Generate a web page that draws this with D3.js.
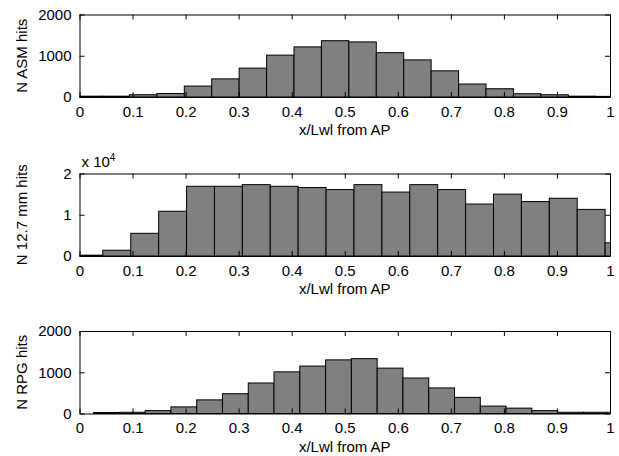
<!DOCTYPE html>
<html>
<head>
<meta charset="utf-8">
<script src="https://cdn.jsdelivr.net/npm/d3@7"></script>
<style>
  html, body { margin: 0; padding: 0; background: #fff; }
  svg { display: block; }
  text { font-family: "Liberation Sans", Arial, Helvetica, sans-serif; }
</style>
</head>
<body>
<svg id="chart" width="619" height="456"></svg>
<script>
// ---------- data ----------
const xTicks = [0, 0.1, 0.2, 0.3, 0.4, 0.5, 0.6, 0.7, 0.8, 0.9, 1];
const xTickLabels = ["0", "0.1", "0.2", "0.3", "0.4", "0.5", "0.6", "0.7", "0.8", "0.9", "1"];
const xLabel = "x/Lwl from AP";

const asmCenters = [0.0166, 0.0683, 0.1200, 0.1717, 0.2234, 0.2751, 0.3268, 0.3785, 0.4302, 0.4819,
                    0.5336, 0.5853, 0.6370, 0.6887, 0.7404, 0.7921, 0.8438, 0.8955, 0.9472, 0.9989];
const asmCounts  = [20, 20, 55, 85, 265, 440, 700, 1015, 1215, 1365,
                    1335, 1075, 900, 635, 315, 200, 80, 55, 20, 15];
const asmBinWidth = 0.0517;

const mmCenters = [0.0177, 0.0703, 0.1229, 0.1755, 0.2281, 0.2807, 0.3333, 0.3859, 0.4385, 0.4911,
                   0.5437, 0.5963, 0.6489, 0.7015, 0.7541, 0.8067, 0.8593, 0.9119, 0.9645, 1.0171];
const mmCounts  = [200, 1400, 5500, 10850, 16900, 16900, 17300, 16900, 16600, 16100,
                   17300, 15500, 17300, 16100, 12600, 15000, 13200, 14000, 11300, 3200];
const mmBinWidth = 0.0526;

const rpgCenters = [0.0508, 0.0994, 0.1480, 0.1966, 0.2452, 0.2938, 0.3424, 0.3910, 0.4396, 0.4882,
                    0.5368, 0.5854, 0.6340, 0.6826, 0.7312, 0.7798, 0.8284, 0.8770, 0.9256, 0.9742];
const rpgCounts  = [25, 30, 70, 160, 330, 480, 740, 1010, 1150, 1300,
                    1330, 1100, 860, 620, 390, 180, 130, 70, 30, 30];
const rpgBinWidth = 0.0486;

const panels = [
  { ylabel: "N ASM hits", centers: asmCenters, counts: asmCounts, width: asmBinWidth,
    yMax: 2000, yTicks: [0, 1000, 2000], yTickLabels: ["0", "1000", "2000"], multiplier: null },
  { ylabel: "N 12.7 mm hits", centers: mmCenters, counts: mmCounts, width: mmBinWidth,
    yMax: 20000, yTicks: [0, 10000, 20000], yTickLabels: ["0", "1", "2"], multiplier: "4" },
  { ylabel: "N RPG hits", centers: rpgCenters, counts: rpgCounts, width: rpgBinWidth,
    yMax: 2000, yTicks: [0, 1000, 2000], yTickLabels: ["0", "1000", "2000"], multiplier: null }
];

// ---------- layout ----------
const svg = d3.select("#chart");
const left = 79.5, right = 610;
const panelTops = [14.5, 173.5, 331];
const panelH = 82.5;
const fontSize = 15;
const tickLen = 5;

const x = d3.scaleLinear().domain([0, 1]).range([left, right]);

svg.append("rect").attr("width", 619).attr("height", 456).attr("fill", "#fff");

panels.forEach((p, i) => {
  const top = panelTops[i];
  const bottom = top + panelH;
  const y = d3.scaleLinear().domain([0, p.yMax]).range([bottom, top]);
  const g = svg.append("g");

  const clipId = "clip" + i;
  svg.append("clipPath").attr("id", clipId)
    .append("rect").attr("x", left).attr("y", top - 1).attr("width", right - left).attr("height", panelH + 2);

  // bars
  g.append("g").attr("clip-path", `url(#${clipId})`)
    .selectAll("rect").data(p.centers.map((c, k) => ({ c, v: p.counts[k] })))
    .join("rect")
    .attr("x", d => x(d.c - p.width / 2))
    .attr("width", d => x(d.c + p.width / 2) - x(d.c - p.width / 2))
    .attr("y", d => y(d.v))
    .attr("height", d => y(0) - y(d.v))
    .attr("fill", "#808080")
    .attr("stroke", "#000")
    .attr("stroke-width", 1);

  // axes
  const xb = d3.axisBottom(x).tickValues(xTicks).tickFormat((d, k) => xTickLabels[k])
    .tickSizeInner(-tickLen).tickSizeOuter(0).tickPadding(tickLen + 4);
  const xt = d3.axisTop(x).tickValues(xTicks).tickFormat("")
    .tickSizeInner(-tickLen).tickSizeOuter(0);
  const yl = d3.axisLeft(y).tickValues(p.yTicks).tickFormat((d, k) => p.yTickLabels[k])
    .tickSizeInner(-tickLen).tickSizeOuter(0).tickPadding(tickLen + 3);
  const yr = d3.axisRight(y).tickValues(p.yTicks).tickFormat("")
    .tickSizeInner(-tickLen).tickSizeOuter(0);

  const axB = g.append("g").attr("transform", `translate(0,${bottom})`).call(xb);
  const axT = g.append("g").attr("transform", `translate(0,${top})`).call(xt);
  const axL = g.append("g").attr("transform", `translate(${left},0)`).call(yl);
  const axR = g.append("g").attr("transform", `translate(${right},0)`).call(yr);

  [axB, axT, axL, axR].forEach(a => {
    a.selectAll("path.domain").attr("stroke", "#000").attr("stroke-width", 1);
    a.selectAll(".tick line").attr("stroke", "#000");
    a.selectAll("text").attr("font-size", fontSize).attr("fill", "#000")
      .attr("font-family", '"Liberation Sans", Arial, sans-serif');
  });

  // y label
  g.append("text")
    .attr("transform", `translate(21,${(top + bottom) / 2}) rotate(-90)`)
    .attr("text-anchor", "middle")
    .attr("dominant-baseline", "central")
    .attr("font-size", fontSize)
    .text(p.ylabel);

  // x label
  g.append("text")
    .attr("x", (left + right) / 2)
    .attr("y", bottom + 38)
    .attr("text-anchor", "middle")
    .attr("font-size", fontSize)
    .text(xLabel);

  // multiplier
  if (p.multiplier) {
    const t = g.append("text").attr("x", left + 2).attr("y", top - 7).attr("font-size", fontSize);
    t.append("tspan").text("x 10");
    t.append("tspan").attr("dy", -6).attr("font-size", 10).text(p.multiplier);
  }
});
</script>
</body>
</html>
